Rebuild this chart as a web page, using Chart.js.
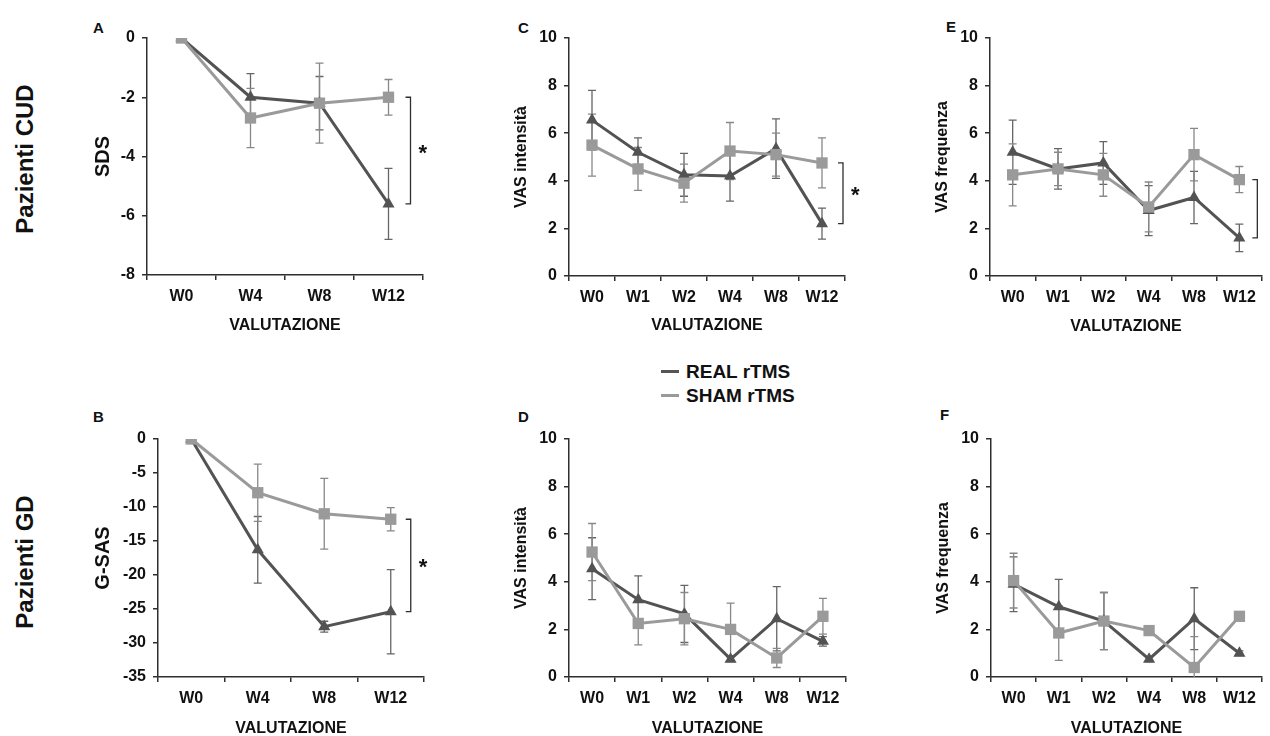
<!DOCTYPE html>
<html>
<head>
<meta charset="utf-8">
<script src="https://cdn.jsdelivr.net/npm/chart.js@4"></script>
<style>
  html, body { margin: 0; padding: 0; background: #fff; width: 1270px; height: 736px; overflow: hidden; }
  body { position: relative; font-family: 'Liberation Sans', Arial, sans-serif; font-weight: bold; color: #111; }
  canvas { position: absolute; }
  .lbl { position: absolute; font-size: 15px; line-height: 15px; }
  .row { position: absolute; width: 200px; text-align: center; font-size: 24px; line-height: 24px; transform: rotate(-90deg); }
  .leg { position: absolute; font-size: 19px; line-height: 19px; white-space: nowrap; }
  .leg i { position: absolute; left: -25px; top: 8px; width: 18px; height: 3px; }
</style>
</head>
<body>
<div class="row" style="left:-75px; top:147px;">Pazienti CUD</div>
<div class="row" style="left:-75px; top:550px;">Pazienti GD</div>
<div class="lbl" style="left:93px; top:20px;">A</div>
<div class="lbl" style="left:518px; top:20px;">C</div>
<div class="lbl" style="left:946px; top:19px;">E</div>
<div class="lbl" style="left:93px; top:409px;">B</div>
<div class="lbl" style="left:518px; top:409px;">D</div>
<div class="lbl" style="left:940px; top:407px;">F</div>
<div class="leg" style="left:686px; top:362px;"><i style="background:#555"></i>REAL rTMS</div>
<div class="leg" style="left:686px; top:386px;"><i style="background:#9a9a9a"></i>SHAM rTMS</div>

<canvas id="A"></canvas>
<canvas id="C"></canvas>
<canvas id="E"></canvas>
<canvas id="B"></canvas>
<canvas id="D"></canvas>
<canvas id="F"></canvas>

<script>
// time points
var weeks4 = ['W0', 'W4', 'W8', 'W12'];
var weeks6 = ['W0', 'W1', 'W2', 'W4', 'W8', 'W12'];

// A - SDS (CUD)
var sdsReal = [0, -2.0, -2.2, -5.6];
var sdsRealErr = [0, 0.8, 0.9, 1.2];
var sdsSham = [0, -2.7, -2.2, -2.0];
var sdsShamErr = [0, 1.0, 1.35, 0.6];

// B - G-SAS (GD)
var gsasReal = [0, -16.3, -27.6, -25.4];
var gsasRealErr = [0, 4.9, 0.8, 6.2];
var gsasSham = [0, -7.9, -11.0, -11.8];
var gsasShamErr = [0, 4.2, 5.2, 1.7];

// C - VAS intensita (CUD)
var intCudReal = [6.55, 5.2, 4.25, 4.2, 5.35, 2.2];
var intCudRealErr = [1.25, 0.6, 0.9, 1.05, 1.25, 0.65];
var intCudSham = [5.5, 4.5, 3.9, 5.25, 5.1, 4.75];
var intCudShamErr = [1.3, 0.9, 0.8, 1.2, 0.9, 1.05];

// D - VAS intensita (GD)
var intGdReal = [4.55, 3.25, 2.65, 0.75, 2.45, 1.5];
var intGdRealErr = [1.3, 1.0, 1.2, 0.1, 1.35, 0.2];
var intGdSham = [5.25, 2.25, 2.45, 2.0, 0.8, 2.55];
var intGdShamErr = [1.2, 0.9, 1.1, 1.1, 0.4, 0.75];

// E - VAS frequenza (CUD)
var freqCudReal = [5.2, 4.5, 4.75, 2.75, 3.3, 1.6];
var freqCudRealErr = [1.35, 0.85, 0.9, 1.05, 1.1, 0.58];
var freqCudSham = [4.25, 4.5, 4.25, 2.9, 5.1, 4.05];
var freqCudShamErr = [1.3, 0.7, 0.9, 1.05, 1.1, 0.55];

// F - VAS frequenza (GD)
var freqGdReal = [3.9, 2.95, 2.35, 0.75, 2.45, 1.0];
var freqGdRealErr = [1.15, 1.15, 1.2, 0.1, 1.3, 0.1];
var freqGdSham = [4.05, 1.85, 2.35, 1.95, 0.4, 2.55];
var freqGdShamErr = [1.15, 1.15, 1.2, 0.1, 1.3, 0.1];

var FONT = "'Liberation Sans', Arial, sans-serif";
var DARK = '#535353';
var LIGHT = '#9a9a9a';
var AXIS = '#2e2e2e';

// error bars, drawn under the lines
const errorBars = {
  id: 'errorBars',
  beforeDatasetsDraw(chart) {
    const ctx = chart.ctx, y = chart.scales.y, a = chart.chartArea;
    ctx.save();
    ctx.beginPath();
    ctx.rect(a.left, a.top, a.right - a.left, a.bottom - a.top);
    ctx.clip();
    chart.data.datasets.forEach((ds, i) => {
      const meta = chart.getDatasetMeta(i);
      ctx.strokeStyle = ds.errorColor;
      ctx.lineWidth = 1.3;
      meta.data.forEach((pt, j) => {
        const e = ds.errors[j];
        if (!e) return;
        const v = ds.data[j];
        const top = y.getPixelForValue(v + e), bot = y.getPixelForValue(v - e);
        ctx.beginPath();
        ctx.moveTo(pt.x, top); ctx.lineTo(pt.x, bot);
        ctx.moveTo(pt.x - 4, top); ctx.lineTo(pt.x + 4, top);
        ctx.moveTo(pt.x - 4, bot); ctx.lineTo(pt.x + 4, bot);
        ctx.stroke();
      });
    });
    ctx.restore();
  }
};

// significance bracket at the last time point
const bracket = {
  id: 'bracket',
  afterDatasetsDraw(chart, args, opts) {
    if (!opts.show) return;
    const ctx = chart.ctx, x = chart.scales.x, y = chart.scales.y;
    const last = chart.data.labels.length - 1;
    const bx = x.getPixelForValue(last) + opts.dx;
    const y1 = y.getPixelForValue(chart.data.datasets[1].data[last]);
    const y2 = y.getPixelForValue(chart.data.datasets[0].data[last]);
    ctx.save();
    ctx.strokeStyle = AXIS;
    ctx.lineWidth = 1.3;
    ctx.beginPath();
    ctx.moveTo(bx - 5, y1); ctx.lineTo(bx, y1); ctx.lineTo(bx, y2); ctx.lineTo(bx - 5, y2);
    ctx.stroke();
    if (opts.star) {
      ctx.fillStyle = '#111';
      ctx.font = 'bold 22px ' + FONT;
      ctx.textAlign = 'left';
      ctx.textBaseline = 'alphabetic';
      ctx.fillText('*', bx + 8, (y1 + y2) / 2 + 9);
    }
    ctx.restore();
  }
};

function makePanel(id, box, area, labels, real, realErr, sham, shamErr, yMin, yMax, yStep, yTitle, yTitleSize, br) {
  var cv = document.getElementById(id);
  cv.width = box.w; cv.height = box.h;
  cv.style.left = box.x + 'px'; cv.style.top = box.y + 'px';
  var yWidth = area.l - box.x;
  var xHeight = box.y + box.h - area.b;
  new Chart(cv.getContext('2d'), {
    type: 'line',
    data: {
      labels: labels,
      datasets: [{
        label: 'REAL rTMS',
        data: real,
        errors: realErr,
        errorColor: '#666666',
        borderColor: DARK,
        backgroundColor: DARK,
        borderWidth: 3,
        pointStyle: 'triangle',
        pointRadius: 7,
        pointBorderWidth: 0,
        order: 1
      }, {
        label: 'SHAM rTMS',
        data: sham,
        errors: shamErr,
        errorColor: '#888888',
        borderColor: LIGHT,
        backgroundColor: LIGHT,
        borderWidth: 3,
        pointStyle: 'rect',
        pointRadius: 8,
        pointBorderWidth: 0,
        order: 0
      }]
    },
    options: {
      responsive: false,
      animation: false,
      layout: { padding: { left: 0, top: area.t - box.y, right: box.x + box.w - area.r, bottom: 0 } },
      plugins: {
        legend: { display: false },
        tooltip: { enabled: false },
        bracket: br
      },
      scales: {
        x: {
          type: 'category',
          offset: true,
          grid: { display: true, offset: true, drawOnChartArea: false, drawTicks: true, tickLength: 5, color: AXIS, lineWidth: 1.5 },
          border: { display: true, color: AXIS, width: 1.5 },
          ticks: { color: '#111', padding: 7, autoSkip: false, maxRotation: 0, font: { family: FONT, size: 16, weight: 'bold' } },
          title: { display: true, text: 'VALUTAZIONE', color: '#111', padding: 0, font: { family: FONT, size: 16, weight: 'bold' } },
          afterFit: function (s) { s.height = xHeight; }
        },
        y: {
          min: yMin,
          max: yMax,
          grid: { display: true, drawOnChartArea: false, drawTicks: true, tickLength: 5, color: AXIS, lineWidth: 1.5 },
          border: { display: true, color: AXIS, width: 1.5 },
          ticks: { stepSize: yStep, color: '#111', padding: 7, font: { family: FONT, size: 16, weight: 'bold' } },
          title: { display: true, text: yTitle, color: '#111', padding: 0, font: { family: FONT, size: yTitleSize, weight: 'bold' } },
          afterFit: function (s) { s.width = yWidth; }
        }
      }
    },
    plugins: [errorBars, bracket]
  });
}

makePanel('A', { x: 91, y: 0, w: 360, h: 335 }, { l: 147, r: 423, t: 38, b: 275 },
  weeks4, sdsReal, sdsRealErr, sdsSham, sdsShamErr, -8, 0, 2, 'SDS', 20,
  { show: true, star: true, dx: 22 });
makePanel('C', { x: 512, y: 0, w: 360, h: 335 }, { l: 569, r: 845, t: 38, b: 276 },
  weeks6, intCudReal, intCudRealErr, intCudSham, intCudShamErr, 0, 10, 2, 'VAS intensità', 16,
  { show: true, star: true, dx: 21 });
makePanel('E', { x: 933, y: 0, w: 337, h: 336 }, { l: 990, r: 1267, t: 38, b: 276 },
  weeks6, freqCudReal, freqCudRealErr, freqCudSham, freqCudShamErr, 0, 10, 2, 'VAS frequenza', 16,
  { show: true, star: false, dx: 18 });
makePanel('B', { x: 91, y: 400, w: 360, h: 338 }, { l: 158, r: 424, t: 439, b: 677 },
  weeks4, gsasReal, gsasRealErr, gsasSham, gsasShamErr, -35, 0, 5, 'G-SAS', 20,
  { show: true, star: true, dx: 20 });
makePanel('D', { x: 512, y: 400, w: 360, h: 338 }, { l: 569, r: 846, t: 439, b: 677 },
  weeks6, intGdReal, intGdRealErr, intGdSham, intGdShamErr, 0, 10, 2, 'VAS intensità', 16,
  { show: false });
makePanel('F', { x: 934, y: 400, w: 336, h: 338 }, { l: 991, r: 1267, t: 439, b: 677 },
  weeks6, freqGdReal, freqGdRealErr, freqGdSham, freqGdShamErr, 0, 10, 2, 'VAS frequenza', 16,
  { show: false });
</script>
</body>
</html>
